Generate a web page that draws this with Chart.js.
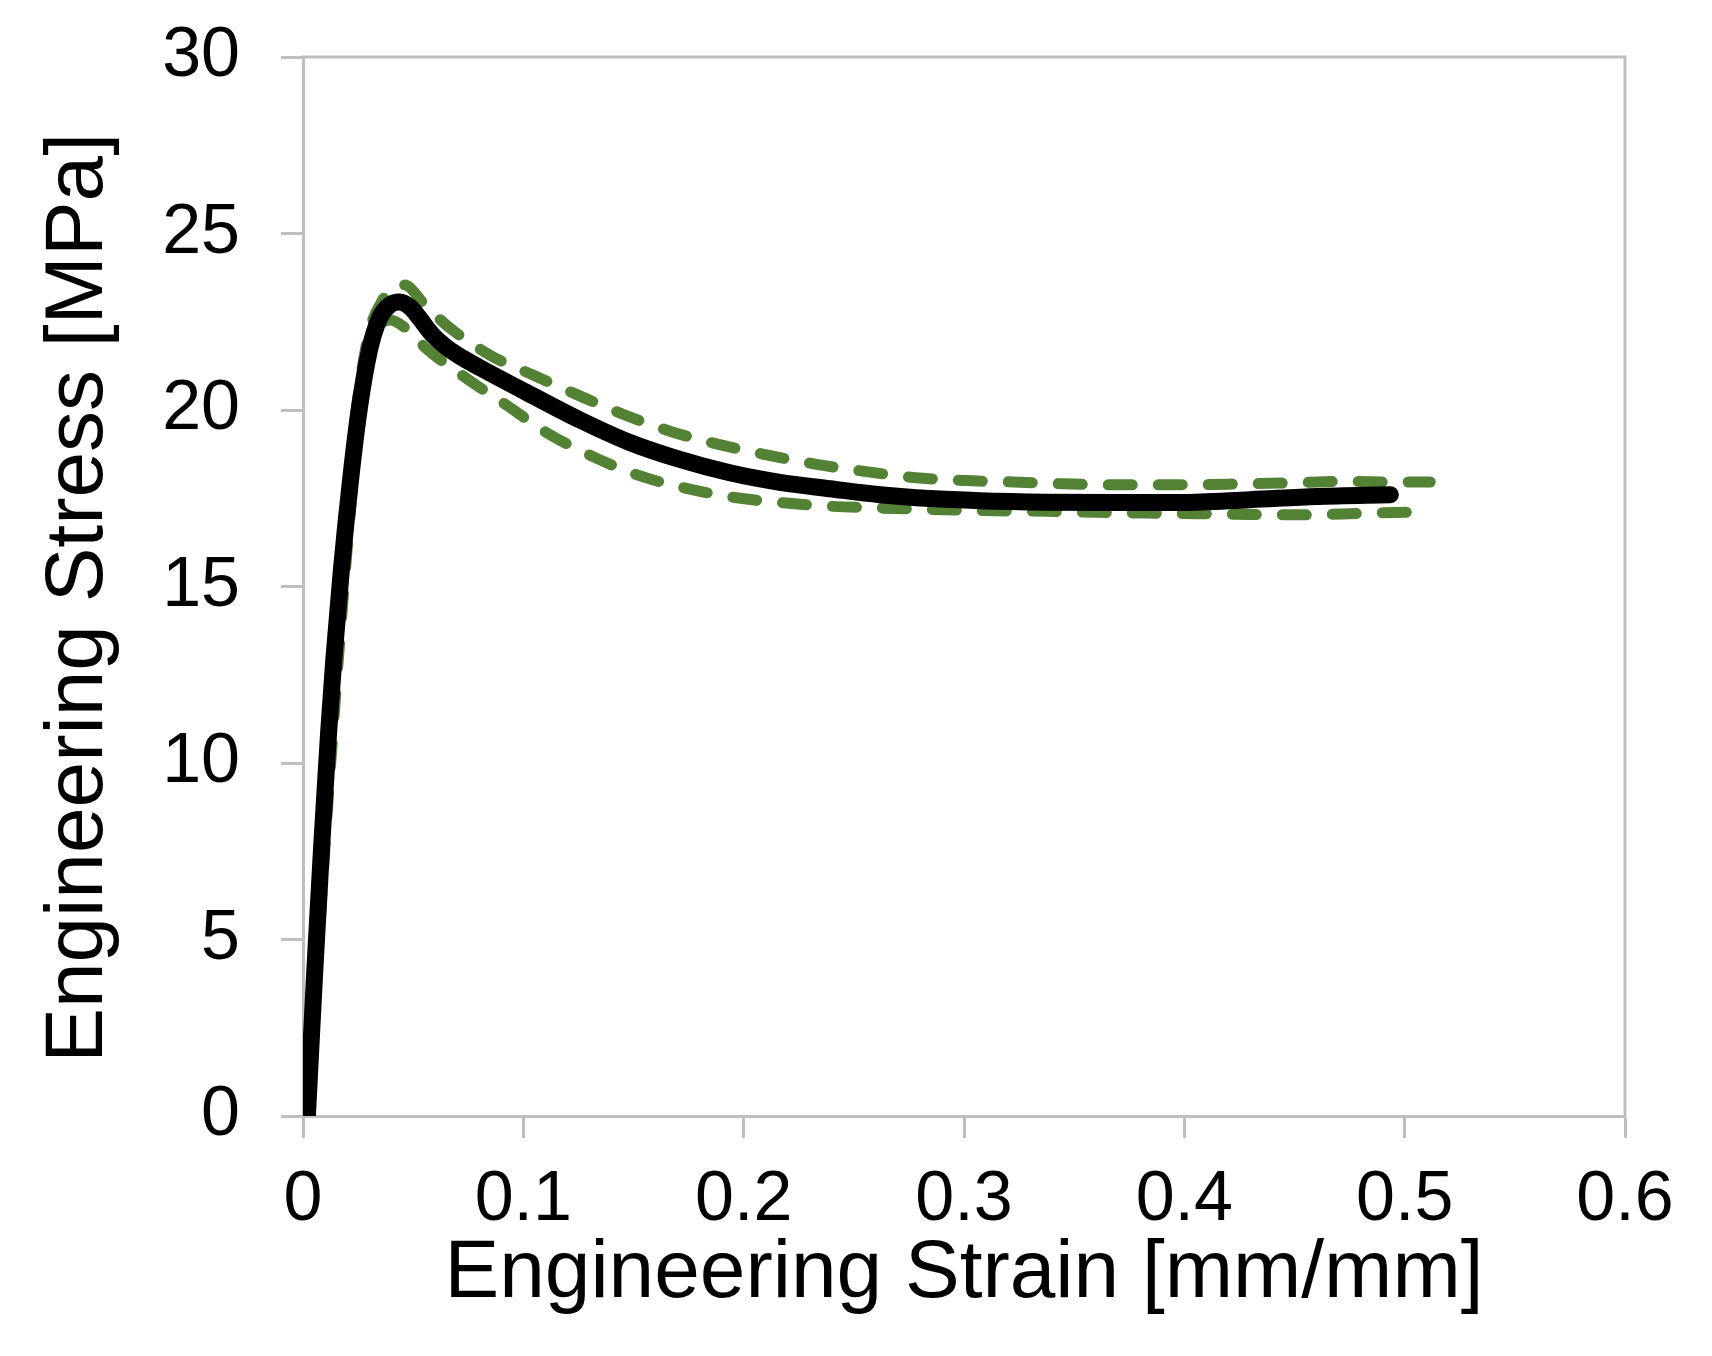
<!DOCTYPE html>
<html>
<head>
<meta charset="utf-8">
<script src="https://cdn.jsdelivr.net/npm/chart.js@4.4.1/dist/chart.umd.min.js"></script>
<style>
  html, body { margin: 0; padding: 0; background: #ffffff; }
  #wrap { width: 1712px; height: 1356px; position: relative; }
</style>
</head>
<body>
<div id="wrap"><canvas id="c"></canvas></div>
<script>
// Mean curve (black)
const strainMean = [0.002, 0.0053, 0.0085, 0.0116, 0.014, 0.0173, 0.0219, 0.0257, 0.0302, 0.0347, 0.0395, 0.0438, 0.0485, 0.0529, 0.0585, 0.065, 0.0725, 0.0802, 0.1029, 0.1256, 0.1483, 0.171, 0.1937, 0.2164, 0.2391, 0.2618, 0.2845, 0.3072, 0.3375, 0.3678, 0.3981, 0.4299, 0.4602, 0.4935];
const stressMean = [0, 4.06, 7.68, 10.84, 12.95, 15.39, 18.2, 20.1, 21.7, 22.6, 22.98, 23.06, 22.92, 22.6, 22.15, 21.78, 21.47, 21.2, 20.45, 19.72, 19.08, 18.6, 18.22, 17.95, 17.77, 17.6, 17.49, 17.43, 17.39, 17.38, 17.38, 17.46, 17.55, 17.6];

// Upper bound (green dashed)
const strainUpper = [0, 0.005, 0.01, 0.015, 0.02, 0.025, 0.03, 0.036, 0.041, 0.0461, 0.055, 0.065, 0.0847, 0.1044, 0.1256, 0.1452, 0.1665, 0.1877, 0.2104, 0.2331, 0.255, 0.277, 0.3004, 0.3224, 0.3451, 0.3678, 0.3905, 0.42, 0.445, 0.4753, 0.4935, 0.5116];
const stressUpper = [0, 4.6, 9.6, 14.0, 17.6, 20.4, 22.2, 23.1, 23.45, 23.54, 23.0, 22.41, 21.56, 20.99, 20.4, 19.88, 19.4, 19.04, 18.73, 18.46, 18.26, 18.09, 18.0, 17.96, 17.91, 17.88, 17.88, 17.9, 17.93, 17.98, 17.96, 17.96];

// Lower bound (green dashed)
const strainLower = [0, 0.006, 0.012, 0.018, 0.024, 0.029, 0.034, 0.0393, 0.047, 0.056, 0.0741, 0.0923, 0.1105, 0.1309, 0.1513, 0.174, 0.1952, 0.2179, 0.2406, 0.2633, 0.286, 0.3087, 0.3375, 0.3602, 0.383, 0.42, 0.4526, 0.48, 0.504];
const stressLower = [0, 4.0, 9.5, 14.5, 18.8, 21.3, 22.3, 22.55, 22.3, 21.74, 20.9, 20.14, 19.36, 18.7, 18.17, 17.78, 17.53, 17.37, 17.27, 17.22, 17.18, 17.15, 17.13, 17.1, 17.08, 17.05, 17.03, 17.07, 17.11];

const xTickLabels = ['0', '0.1', '0.2', '0.3', '0.4', '0.5', '0.6'];
const yTickLabels = ['0', '5', '10', '15', '20', '25', '30'];
const xTitle = 'Engineering Strain [mm/mm]';
const yTitle = 'Engineering Stress [MPa] ';

const toPoints = (xs, ys) => xs.map((x, i) => ({ x: x, y: ys[i] }));

const AXIS_GREY = '#bfbfbf';
const GREEN = '#548235';
const FONT = '"Liberation Sans", Arial, sans-serif';

const framePlugin = {
  id: 'frame',
  beforeDatasetsDraw(chart) {
    const { ctx, chartArea: a } = chart;
    ctx.save();
    ctx.strokeStyle = AXIS_GREY;
    ctx.lineWidth = 3;
    ctx.lineCap = 'square';
    ctx.beginPath();
    ctx.moveTo(a.left, a.top);
    ctx.lineTo(a.right, a.top);
    ctx.lineTo(a.right, a.bottom);
    ctx.stroke();
    ctx.restore();
  }
};

const lineBase = {
  pointRadius: 0,
  borderCapStyle: 'round',
  borderJoinStyle: 'round',
  cubicInterpolationMode: 'monotone',
  fill: false,
  clip: 0
};

new Chart(document.getElementById('c'), {
  type: 'line',
  data: {
    datasets: [
      Object.assign({}, lineBase, {
        label: 'Mean',
        data: toPoints(strainMean, stressMean),
        borderColor: '#000000',
        borderWidth: 17
      }),
      Object.assign({}, lineBase, {
        label: 'Upper',
        data: toPoints(strainUpper, stressUpper),
        borderColor: GREEN,
        borderWidth: 11,
        borderDash: [24, 26]
      }),
      Object.assign({}, lineBase, {
        label: 'Lower',
        data: toPoints(strainLower, stressLower),
        borderColor: GREEN,
        borderWidth: 11,
        borderDash: [24, 26]
      })
    ]
  },
  options: {
    responsive: true,
    maintainAspectRatio: false,
    animation: false,
    devicePixelRatio: 1,
    layout: { padding: { top: 57, right: 87, left: 0, bottom: 0 } },
    plugins: {
      legend: { display: false },
      tooltip: { enabled: false }
    },
    scales: {
      x: {
        type: 'linear',
        min: 0,
        max: 0.6,
        afterFit: (s) => { s.height = 240; s.paddingLeft = 0; s.paddingRight = 0; },
        ticks: {
          stepSize: 0.1,
          padding: 21,
          color: '#000000',
          font: { family: FONT, size: 70, lineHeight: 1.2 },
          maxRotation: 0,
          autoSkip: false,
          callback: (v, i) => xTickLabels[i]
        },
        grid: {
          display: true,
          drawOnChartArea: false,
          drawTicks: true,
          tickLength: 22,
          tickWidth: 3,
          tickColor: AXIS_GREY
        },
        border: { display: true, color: AXIS_GREY, width: 3 },
        title: {
          display: true,
          text: xTitle,
          color: '#000000',
          font: { family: FONT, size: 82, lineHeight: 1.2 },
          padding: { top: 0, bottom: 32 }
        }
      },
      y: {
        type: 'linear',
        min: 0,
        max: 30,
        afterFit: (s) => { s.width = 303; s.paddingTop = 0; s.paddingBottom = 0; },
        ticks: {
          stepSize: 5,
          padding: 41,
          color: '#000000',
          font: { family: FONT, size: 70, lineHeight: 1.2 },
          autoSkip: false,
          callback: (v, i) => yTickLabels[i]
        },
        grid: {
          display: true,
          drawOnChartArea: false,
          drawTicks: true,
          tickLength: 22,
          tickWidth: 3,
          tickColor: AXIS_GREY
        },
        border: { display: true, color: AXIS_GREY, width: 3 },
        title: {
          display: true,
          text: yTitle,
          color: '#000000',
          font: { family: FONT, size: 82, lineHeight: 1.2 },
          padding: { top: 30, bottom: 0 }
        }
      }
    }
  },
  plugins: [framePlugin]
});
</script>
</body>
</html>
